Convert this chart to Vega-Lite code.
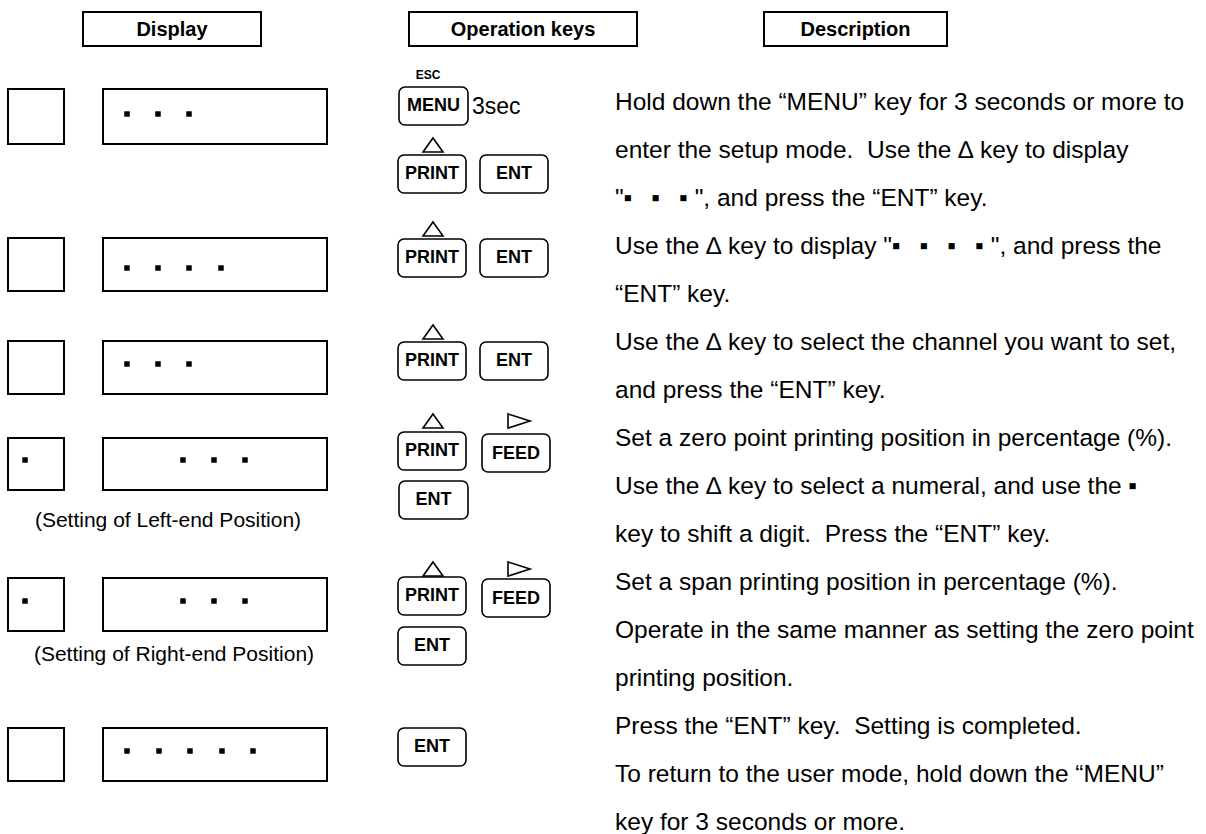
{
  "$schema": "https://vega.github.io/schema/vega-lite/v6.json",
  "width": 1206,
  "height": 834,
  "padding": 0,
  "autosize": {"type": "none"},
  "background": "white",
  "config": {"view": {"stroke": null}},
  "datasets": {
    "frames": [
      {"x": 83, "x2": 261, "y": 12, "y2": 46, "part": "header"},
      {"x": 409, "x2": 637, "y": 12, "y2": 46, "part": "header"},
      {"x": 764, "x2": 947, "y": 12, "y2": 46, "part": "header"},
      {"x": 8, "x2": 64, "y": 89, "y2": 144, "part": "sub"},
      {"x": 103, "x2": 327, "y": 89, "y2": 144, "part": "main"},
      {"x": 8, "x2": 64, "y": 238, "y2": 291, "part": "sub"},
      {"x": 103, "x2": 327, "y": 238, "y2": 291, "part": "main"},
      {"x": 8, "x2": 64, "y": 341, "y2": 394, "part": "sub"},
      {"x": 103, "x2": 327, "y": 341, "y2": 394, "part": "main"},
      {"x": 8, "x2": 64, "y": 438, "y2": 490, "part": "sub"},
      {"x": 103, "x2": 327, "y": 438, "y2": 490, "part": "main"},
      {"x": 8, "x2": 64, "y": 578, "y2": 631, "part": "sub"},
      {"x": 103, "x2": 327, "y": 578, "y2": 631, "part": "main"},
      {"x": 8, "x2": 64, "y": 728, "y2": 781, "part": "sub"},
      {"x": 103, "x2": 327, "y": 728, "y2": 781, "part": "main"}
    ],
    "keys": [
      {"x": 399, "x2": 468, "y": 87, "y2": 125, "label": "MENU", "cx": 433.5, "cy": 106},
      {"x": 398, "x2": 466, "y": 155, "y2": 193, "label": "PRINT", "cx": 432, "cy": 174},
      {"x": 480, "x2": 548, "y": 155, "y2": 193, "label": "ENT", "cx": 514, "cy": 174},
      {"x": 398, "x2": 466, "y": 239, "y2": 277, "label": "PRINT", "cx": 432, "cy": 258},
      {"x": 480, "x2": 548, "y": 239, "y2": 277, "label": "ENT", "cx": 514, "cy": 258},
      {"x": 398, "x2": 466, "y": 342, "y2": 380, "label": "PRINT", "cx": 432, "cy": 361},
      {"x": 480, "x2": 548, "y": 342, "y2": 380, "label": "ENT", "cx": 514, "cy": 361},
      {"x": 398, "x2": 466, "y": 432, "y2": 470, "label": "PRINT", "cx": 432, "cy": 451},
      {"x": 482, "x2": 550, "y": 434, "y2": 472, "label": "FEED", "cx": 516, "cy": 454},
      {"x": 399, "x2": 468, "y": 481, "y2": 519, "label": "ENT", "cx": 433.5, "cy": 500},
      {"x": 398, "x2": 466, "y": 577, "y2": 615, "label": "PRINT", "cx": 432, "cy": 596},
      {"x": 482, "x2": 550, "y": 579, "y2": 617, "label": "FEED", "cx": 516, "cy": 599},
      {"x": 398, "x2": 466, "y": 627, "y2": 665, "label": "ENT", "cx": 432, "cy": 646},
      {"x": 398, "x2": 466, "y": 728, "y2": 766, "label": "ENT", "cx": 432, "cy": 747}
    ],
    "dots": [
      {"x": 127, "y": 114}, {"x": 158, "y": 114}, {"x": 189, "y": 114},
      {"x": 127, "y": 268}, {"x": 158, "y": 268}, {"x": 189, "y": 268}, {"x": 221, "y": 268},
      {"x": 127, "y": 364}, {"x": 158, "y": 364}, {"x": 189, "y": 364},
      {"x": 25, "y": 460}, {"x": 183, "y": 460}, {"x": 214, "y": 460}, {"x": 245, "y": 460},
      {"x": 25, "y": 601}, {"x": 183, "y": 601}, {"x": 214, "y": 601}, {"x": 245, "y": 601},
      {"x": 127, "y": 751}, {"x": 159, "y": 751}, {"x": 190, "y": 751}, {"x": 222, "y": 751}, {"x": 253, "y": 751}
    ],
    "triUp": [
      {"x": 433, "y": 145}, {"x": 433, "y": 229}, {"x": 433, "y": 332}, {"x": 433, "y": 421}, {"x": 433, "y": 569}
    ],
    "triRight": [
      {"x": 519, "y": 421}, {"x": 519, "y": 569}
    ],
    "headers": [
      {"x": 172, "y": 30, "label": "Display"},
      {"x": 523, "y": 30, "label": "Operation keys"},
      {"x": 855.5, "y": 30, "label": "Description"}
    ],
    "notes": [
      {"x": 168, "y": 521, "label": "(Setting of Left-end Position)"},
      {"x": 174, "y": 655, "label": "(Setting of Right-end Position)"}
    ],
    "esc": [{"x": 428, "y": 75, "label": "ESC"}],
    "sec": [{"x": 472, "y": 107, "label": "3sec"}],
    "desc": [
      {"x": 615, "y": 103, "label": "Hold down the “MENU” key for 3 seconds or more to"},
      {"x": 615, "y": 151, "label": "enter the setup mode.\u00a0 Use the ∆ key to display"},
      {"x": 615, "y": 199, "label": "\u00a0\"▪\u2002 ▪\u2002 ▪\u00a0\", and press the “ENT” key."},
      {"x": 615, "y": 247, "label": "Use the ∆ key to display \"▪\u2002 ▪\u2002 ▪\u2002 ▪\u00a0\", and press the"},
      {"x": 615, "y": 295, "label": "“ENT” key."},
      {"x": 615, "y": 343, "label": "Use the ∆ key to select the channel you want to set,"},
      {"x": 615, "y": 391, "label": "and press the “ENT” key."},
      {"x": 615, "y": 439, "label": "Set a zero point printing position in percentage (%)."},
      {"x": 615, "y": 487, "label": "Use the ∆ key to select a numeral, and use the ▪"},
      {"x": 615, "y": 535, "label": "key to shift a digit.\u00a0 Press the “ENT” key."},
      {"x": 615, "y": 583, "label": "Set a span printing position in percentage (%)."},
      {"x": 615, "y": 631, "label": "Operate in the same manner as setting the zero point"},
      {"x": 615, "y": 679, "label": "printing position."},
      {"x": 615, "y": 727, "label": "Press the “ENT” key.\u00a0 Setting is completed."},
      {"x": 615, "y": 775, "label": "To return to the user mode, hold down the “MENU”"},
      {"x": 615, "y": 823, "label": "key for 3 seconds or more."}
    ]
  },
  "encoding": {
    "x": {"field": "x", "type": "quantitative", "scale": {"domain": [0, 1206], "nice": false, "zero": false}, "axis": null},
    "y": {"field": "y", "type": "quantitative", "scale": {"domain": [0, 834], "reverse": true, "nice": false, "zero": false}, "axis": null}
  },
  "layer": [
    {
      "data": {"name": "frames"},
      "mark": {"type": "rect", "fillOpacity": 0, "stroke": "#000000", "strokeWidth": 2},
      "encoding": {"x2": {"field": "x2"}, "y2": {"field": "y2"}}
    },
    {
      "data": {"name": "keys"},
      "mark": {"type": "rect", "fill": "#ffffff", "stroke": "#000000", "strokeWidth": 1.6, "cornerRadius": 6},
      "encoding": {"x2": {"field": "x2"}, "y2": {"field": "y2"}}
    },
    {
      "data": {"name": "keys"},
      "mark": {"type": "text", "font": "Liberation Sans Narrow, Liberation Sans", "fontWeight": "bold", "fontSize": 18, "align": "center", "baseline": "middle", "color": "#000000"},
      "encoding": {
        "x": {"field": "cx", "type": "quantitative"},
        "y": {"field": "cy", "type": "quantitative"},
        "text": {"field": "label"}
      }
    },
    {
      "data": {"name": "dots"},
      "mark": {"type": "square", "size": 30, "color": "#000000", "opacity": 1}
    },
    {
      "data": {"name": "triUp"},
      "mark": {"type": "point", "shape": "M0,-0.7L1,0.7L-1,0.7Z", "size": 400, "filled": false, "stroke": "#000000", "strokeWidth": 1.6, "opacity": 1}
    },
    {
      "data": {"name": "triRight"},
      "mark": {"type": "point", "shape": "M-1,-0.64L1,0L-1,0.64Z", "size": 484, "filled": false, "stroke": "#000000", "strokeWidth": 1.6, "opacity": 1}
    },
    {
      "data": {"name": "headers"},
      "mark": {"type": "text", "font": "Liberation Sans", "fontWeight": "bold", "fontSize": 20, "align": "center", "baseline": "middle", "color": "#000000"},
      "encoding": {"text": {"field": "label"}}
    },
    {
      "data": {"name": "notes"},
      "mark": {"type": "text", "font": "Liberation Sans", "fontSize": 21, "align": "center", "baseline": "middle", "color": "#000000"},
      "encoding": {"text": {"field": "label"}}
    },
    {
      "data": {"name": "esc"},
      "mark": {"type": "text", "font": "Liberation Sans", "fontWeight": "bold", "fontSize": 12, "align": "center", "baseline": "middle", "color": "#000000"},
      "encoding": {"text": {"field": "label"}}
    },
    {
      "data": {"name": "sec"},
      "mark": {"type": "text", "font": "Liberation Sans", "fontSize": 23, "align": "left", "baseline": "middle", "color": "#000000"},
      "encoding": {"text": {"field": "label"}}
    },
    {
      "data": {"name": "desc"},
      "mark": {"type": "text", "font": "Liberation Sans", "fontSize": 24.5, "align": "left", "baseline": "middle", "color": "#000000"},
      "encoding": {"text": {"field": "label"}}
    }
  ]
}
